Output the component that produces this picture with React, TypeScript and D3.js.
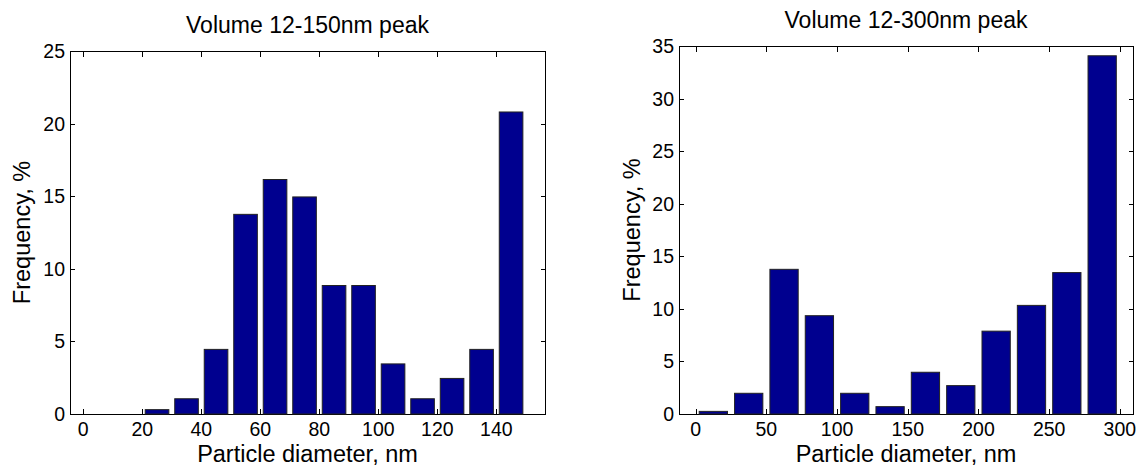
import { useEffect, useRef } from 'react';
import * as d3 from 'd3';

// left panel: 12-150nm
const leftCenters = [5, 15, 25, 35, 45, 55, 65, 75, 85, 95, 105, 115, 125, 135, 145];
const leftValues = [0, 0, 0.3, 1.05, 4.45, 13.75, 16.15, 14.95, 8.85, 8.85, 3.45, 1.05, 2.45, 4.45, 20.8];
const leftXTicks = [0, 20, 40, 60, 80, 100, 120, 140];
const leftYTicks = [0, 5, 10, 15, 20, 25];

// right panel: 12-300nm
const rightCenters = [12.5, 37.5, 62.5, 87.5, 112.5, 137.5, 162.5, 187.5, 212.5, 237.5, 262.5, 287.5];
const rightValues = [0.25, 1.97, 13.76, 9.35, 1.97, 0.7, 3.97, 2.7, 7.88, 10.33, 13.45, 34.07];
const rightXTicks = [0, 50, 100, 150, 200, 250, 300];
const rightYTicks = [0, 5, 10, 15, 20, 25, 30, 35];

const FONT = '"Liberation Sans", Arial, Helvetica, sans-serif';
const BAR_FILL = '#00008f';

function drawPanel(g, cfg) {
  const { box, xDomain, yDomain, centers, values, binWidth, xTicks, yTicks, title, titleY, yLabelX } = cfg;
  const x = d3.scaleLinear().domain(xDomain).range([box.left, box.right]);
  const y = d3.scaleLinear().domain(yDomain).range([box.bottom, box.top]);
  const tickLen = 5;

  // box
  g.append('rect')
    .attr('x', box.left + 0.5)
    .attr('y', box.top + 0.5)
    .attr('width', box.right - box.left)
    .attr('height', box.bottom - box.top)
    .attr('fill', 'white')
    .attr('stroke', '#000')
    .attr('stroke-width', 1);

  // ticks on all four sides, pointing inward
  xTicks.forEach(t => {
    const px = Math.round(x(t)) + 0.5;
    g.append('line').attr('x1', px).attr('x2', px)
      .attr('y1', box.bottom).attr('y2', box.bottom - tickLen).attr('stroke', '#000');
    g.append('line').attr('x1', px).attr('x2', px)
      .attr('y1', box.top + 1).attr('y2', box.top + 1 + tickLen).attr('stroke', '#000');
    g.append('text')
      .attr('x', x(t))
      .attr('y', box.bottom + 22)
      .attr('text-anchor', 'middle')
      .attr('font-size', 19.5)
      .attr('font-family', FONT)
      .text(t);
  });
  yTicks.forEach(t => {
    const py = Math.round(y(t)) + 0.5;
    g.append('line').attr('x1', box.left).attr('x2', box.left + tickLen)
      .attr('y1', py).attr('y2', py).attr('stroke', '#000');
    g.append('line').attr('x1', box.right + 1).attr('x2', box.right + 1 - tickLen)
      .attr('y1', py).attr('y2', py).attr('stroke', '#000');
    g.append('text')
      .attr('x', box.left - 5)
      .attr('y', y(t))
      .attr('dy', '0.36em')
      .attr('text-anchor', 'end')
      .attr('font-size', 19.5)
      .attr('font-family', FONT)
      .text(t);
  });

  // bars (80% of bin width, like matlab hist)
  const bw = (x(binWidth) - x(0)) * 0.8;
  g.selectAll('.bar')
    .data(centers.map((c, i) => ({ c, v: values[i] })).filter(d => d.v > 0))
    .enter()
    .append('rect')
    .attr('class', 'bar')
    .attr('x', d => x(d.c) - bw / 2)
    .attr('y', d => y(d.v))
    .attr('width', bw)
    .attr('height', d => y(0) - y(d.v))
    .attr('fill', BAR_FILL)
    .attr('stroke', '#222')
    .attr('stroke-width', 1);

  // title + labels
  const cx = (box.left + box.right) / 2;
  g.append('text')
    .attr('x', cx)
    .attr('y', titleY)
    .attr('text-anchor', 'middle')
    .attr('font-size', 23)
    .attr('font-family', FONT)
    .text(title);
  g.append('text')
    .attr('x', cx)
    .attr('y', box.bottom + 48)
    .attr('text-anchor', 'middle')
    .attr('font-size', 23.5)
    .attr('font-family', FONT)
    .text('Particle diameter, nm');
  g.append('text')
    .attr('transform', `translate(${yLabelX},${(box.top + box.bottom) / 2}) rotate(-90)`)
    .attr('text-anchor', 'middle')
    .attr('font-size', 23.5)
    .attr('font-family', FONT)
    .text('Frequency, %');
}

export default function App() {
  const svgRef = useRef(null);

  useEffect(() => {
    const svg = d3.select(svgRef.current);
    svg.selectAll('*').remove();

    drawPanel(svg.append('g'), {
      box: { left: 70, right: 545, top: 51, bottom: 414 },
      xDomain: [-4.5, 156.5],
      yDomain: [0, 25],
      centers: leftCenters,
      values: leftValues,
      binWidth: 10,
      xTicks: leftXTicks,
      yTicks: leftYTicks,
      title: 'Volume 12-150nm peak',
      titleY: 33,
      yLabelX: 30,
    });

    drawPanel(svg.append('g'), {
      box: { left: 679, right: 1133, top: 46, bottom: 414 },
      xDomain: [-11.8, 309.3],
      yDomain: [0, 35],
      centers: rightCenters,
      values: rightValues,
      binWidth: 25,
      xTicks: rightXTicks,
      yTicks: rightYTicks,
      title: 'Volume 12-300nm peak',
      titleY: 28,
      yLabelX: 640,
    });
  }, []);

  return (
    <svg
      ref={svgRef}
      width={1138}
      height={466}
      style={{ position: 'absolute', left: 0, top: 0, background: 'white' }}
    />
  );
}
